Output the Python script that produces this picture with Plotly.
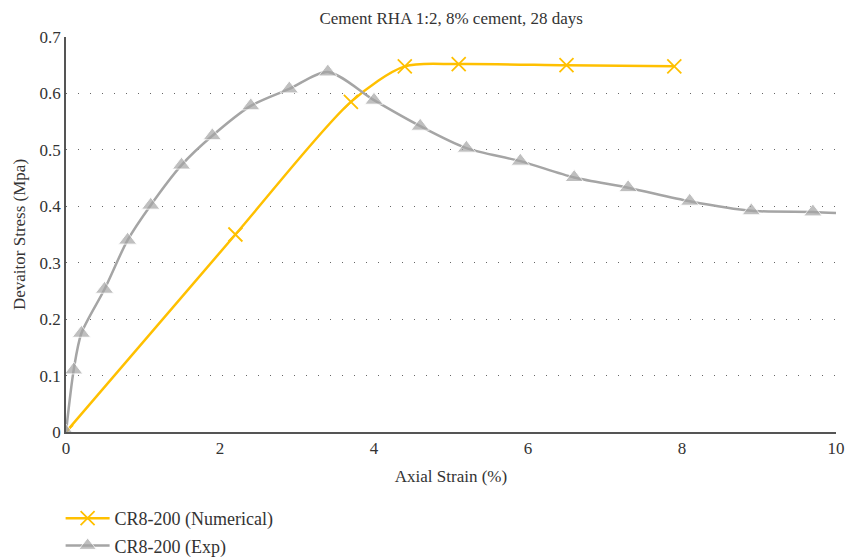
import plotly.graph_objects as go

# Axial strain (%) and deviator stress (MPa)
num_strain = [0.0, 2.2, 3.7, 4.4, 5.1, 6.5, 7.9]
num_stress = [0.0, 0.35, 0.585, 0.648, 0.652, 0.650, 0.648]

exp_strain = [0.0, 0.1, 0.2, 0.5, 0.8, 1.1, 1.5, 1.9, 2.4, 2.9, 3.4,
              4.0, 4.6, 5.2, 5.9, 6.6, 7.3, 8.1, 8.9, 9.7, 10.0]
exp_stress = [0.0, 0.11, 0.175, 0.253, 0.340, 0.402, 0.473, 0.525, 0.578, 0.608, 0.638,
              0.588, 0.542, 0.503, 0.480, 0.451, 0.433, 0.409, 0.392, 0.390, 0.388]
# last point of the test curve carries no marker
exp_marker_size = [16] * (len(exp_strain) - 1) + [0]

x_ticks = [0, 2, 4, 6, 8, 10]
y_ticks = [0, 0.1, 0.2, 0.3, 0.4, 0.5, 0.6, 0.7]

YELLOW = "#FFC000"
GRAY = "#A5A5A5"
FONT = "Liberation Serif"
TEXT = "#333333"

fig = go.Figure()
fig.add_trace(go.Scatter(
    x=num_strain, y=num_stress, name="CR8-200 (Numerical)",
    mode="lines+markers", legendgroup="num",
    line=dict(color=YELLOW, width=2.5, shape="spline", smoothing=0.8),
    marker=dict(symbol="x-thin-open", size=14, line=dict(color=YELLOW, width=1.8), color=YELLOW),
))
fig.add_trace(go.Scatter(
    x=exp_strain, y=exp_stress, name="CR8-200 (Exp)",
    mode="lines+markers", legendgroup="exp",
    line=dict(color=GRAY, width=2.5, shape="spline", smoothing=0.8),
    marker=dict(symbol="triangle-up", size=exp_marker_size, color=GRAY),
))

fig.update_layout(
    width=848, height=559,
    margin=dict(l=66, r=12, t=37, b=127, autoexpand=False),
    paper_bgcolor="white", plot_bgcolor="white",
    font=dict(family=FONT, size=17, color=TEXT),
    title=dict(text="Cement RHA 1:2, 8% cement, 28 days", x=0.532, xanchor="center",
               y=0.968, yanchor="middle", font=dict(size=17, color=TEXT)),
    showlegend=True,
    legend=dict(orientation="v", x=-0.007, xanchor="left", y=-0.172, yanchor="top",
                font=dict(size=18, color=TEXT), traceorder="grouped", tracegroupgap=1,
                itemwidth=44, bgcolor="rgba(0,0,0,0)"),
    xaxis=dict(range=[0, 10], tickvals=x_ticks, showgrid=False, zeroline=False,
               showline=True, linecolor="#555555", linewidth=1.5, ticks="",
               automargin=False,
               title=dict(text="Axial Strain (%)", font=dict(size=17), standoff=13),
               tickfont=dict(size=17)),
    yaxis=dict(range=[0, 0.7], tickvals=y_ticks, showgrid=True, gridcolor="#666666",
               griddash="1px,11px", gridwidth=1, zeroline=False,
               showline=True, linecolor="#555555", linewidth=1.5, ticks="",
               automargin=False,
               title=dict(text="Devaitor Stress (Mpa)", font=dict(size=17), standoff=10),
               tickfont=dict(size=17)),
)

fig.write_html("out.html")
